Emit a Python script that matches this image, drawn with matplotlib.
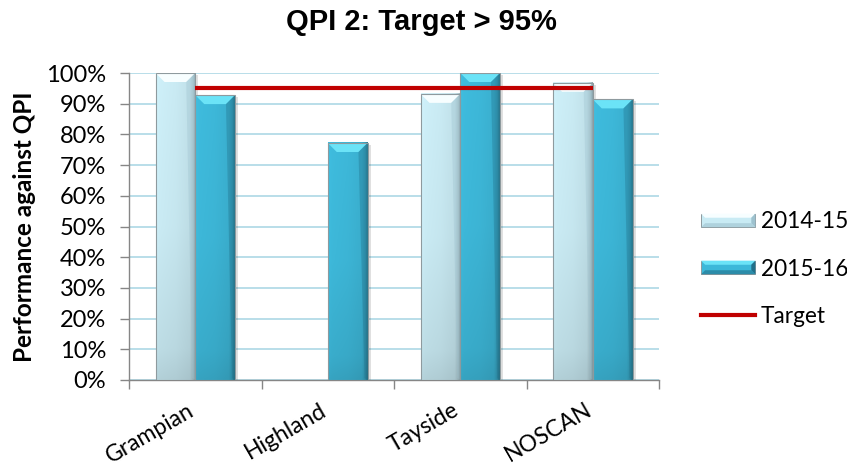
import numpy as np
import matplotlib
matplotlib.use("Agg")
import matplotlib.pyplot as plt
import matplotlib.transforms as mtransforms
from matplotlib.patches import Rectangle, Polygon, Patch
from matplotlib.lines import Line2D
from matplotlib.legend_handler import HandlerBase
from matplotlib.ticker import FixedLocator, PercentFormatter

# ---- data -------------------------------------------------------------
categories = ["Grampian", "Highland", "Tayside", "NOSCAN"]
perf_2014_15 = [1.00, 0.0, 0.932, 0.968]
perf_2015_16 = [0.928, 0.772, 1.00, 0.914]
target_value = 0.95
series_labels = ["2014-15", "2015-16", "Target"]
y_ticks = [0.0, 0.1, 0.2, 0.3, 0.4, 0.5, 0.6, 0.7, 0.8, 0.9, 1.0]

plt.rcParams["font.family"] = ["Lato", "DejaVu Sans"]

LIGHT = dict(base=(0.79, 0.92, 0.955), top=(0.97, 0.995, 1.0), side=(0.62, 0.76, 0.81))
DARK = dict(base=(0.24, 0.72, 0.85), top=(0.42, 0.89, 0.97), side=(0.13, 0.44, 0.54))

fig = plt.figure(figsize=(8.47, 4.68), dpi=100)
ax = fig.add_axes([129 / 847, 1 - 380 / 468, (659 - 129) / 847, (380 - 73) / 468])

PX_X = 1 / 132.0   # one pixel in category units
PX_Y = 1 / 307.0   # one pixel in value units


def bevel_bar(ax, x, w, h, style, z=3):
    if h <= 0:
        return
    base = np.array(style["base"])
    # soft drop shadow
    ax.add_patch(Rectangle((x + 3 * PX_X, 0), w, h - 2 * PX_Y, facecolor="black",
                           alpha=0.12, lw=0, zorder=z - 0.5))
    # body with horizontal/vertical shading
    xs = np.linspace(0, 1, 80)
    hs = np.interp(xs, [0, 0.1, 0.5, 0.85, 0.94, 1.0], [1.04, 1.02, 1.0, 0.96, 0.85, 0.66])
    ys = np.linspace(0, 1, 120)
    vs = np.interp(ys, [0, 0.5, 0.9, 1.0], [1.0, 0.98, 0.92, 0.87])
    img = np.clip(base[None, None, :] * hs[None, :, None] * vs[:, None, None], 0, 1)
    ax.imshow(img, extent=(x, x + w, 0, h), aspect="auto", origin="upper",
              interpolation="bilinear", zorder=z)
    dx = 9 * PX_X
    dy = 9 * PX_Y
    top = Polygon([(x, h), (x + w, h), (x + w - dx, h - dy), (x + dx, h - dy)],
                  closed=True, facecolor=style["top"], lw=0, zorder=z + 0.1)
    ax.add_patch(top)
    right = Polygon([(x + w, h), (x + w, 0), (x + w - 3 * PX_X, 2 * PX_Y),
                     (x + w - dx, h - dy)],
                    closed=True, facecolor=style["side"], alpha=0.35, lw=0, zorder=z + 0.1)
    ax.add_patch(right)
    ax.add_patch(Rectangle((x, 0), w, h, facecolor="none", edgecolor="#8E9A9E",
                           lw=0.8, zorder=z + 0.3))


xpos = np.arange(len(categories))
bar_w = 0.3
for i in xpos:
    bevel_bar(ax, i - bar_w, bar_w, perf_2014_15[i], LIGHT)
    bevel_bar(ax, i, bar_w, perf_2015_16[i], DARK)

ax.plot([xpos[0], xpos[-1]], [target_value, target_value], color="#C00000",
        lw=3.0, solid_capstyle="butt", zorder=6)

ax.set_xlim(-0.5, len(categories) - 0.5)
ax.set_ylim(0, 1.0)

# grid
ax.yaxis.set_major_locator(FixedLocator(y_ticks))
ax.yaxis.set_major_formatter(PercentFormatter(1.0, decimals=0))
ax.grid(axis="y", color="#B9DEE9", lw=1.4, zorder=0)
ax.set_axisbelow(True)

for s in ["top", "right"]:
    ax.spines[s].set_visible(False)
for s in ["left", "bottom"]:
    ax.spines[s].set_color("#868686")
    ax.spines[s].set_linewidth(1.0)

ax.tick_params(axis="y", direction="out", length=6.5, width=1.0, color="#868686",
               pad=10, labelsize=17, labelcolor="black")

# category boundaries as major ticks, labels on minor ticks
ax.set_xticks(np.arange(-0.5, len(categories)), labels=[])
ax.set_xticks(xpos, labels=categories, minor=True)
ax.tick_params(axis="x", which="major", direction="out", length=6.5, width=1.0,
               color="#868686")
ax.tick_params(axis="x", which="minor", length=0, pad=14, labelsize=16.5)
shift = mtransforms.ScaledTranslation(-8 / 100, 0, fig.dpi_scale_trans)
for lab in ax.get_xticklabels(minor=True):
    lab.set_rotation(30)
    lab.set_ha("right")
    lab.set_va("top")
    lab.set_rotation_mode("anchor")
    lab.set_transform(lab.get_transform() + shift)

ax.set_ylabel("Performance against QPI", fontsize=17.5, fontweight="bold", labelpad=7)

fig.text(0.497, 1 - 22 / 468, "QPI 2: Target > 95%",
         ha="center", va="center", fontsize=21, fontweight="bold",
         family=["Liberation Sans", "DejaVu Sans"])


class BevelHandler(HandlerBase):
    def __init__(self, style):
        super().__init__()
        self.style = style

    def create_artists(self, legend, orig_handle, xdescent, ydescent, width, height,
                       fontsize, trans):
        x0, y0 = -xdescent, -ydescent
        st = self.style
        b = height * 0.3
        body = Rectangle((x0, y0), width, height, facecolor=st["base"],
                         edgecolor="#8E9A9E", lw=0.7, transform=trans)
        top = Polygon([(x0, y0 + height), (x0 + width, y0 + height),
                       (x0 + width - b, y0 + height - b), (x0 + b, y0 + height - b)],
                      closed=True, facecolor=st["top"], lw=0, transform=trans)
        right = Polygon([(x0 + width, y0 + height), (x0 + width, y0),
                         (x0 + width - b, y0 + b), (x0 + width - b, y0 + height - b)],
                        closed=True, facecolor=st["side"], lw=0, transform=trans)
        bottom = Polygon([(x0, y0), (x0 + width, y0), (x0 + width - b, y0 + b),
                          (x0 + b, y0 + b)],
                         closed=True, facecolor=st["side"], alpha=0.6, lw=0, transform=trans)
        return [body, top, right, bottom]


h_light = Patch(label=series_labels[0])
h_dark = Patch(label=series_labels[1])
h_target = Line2D([], [], color="#C00000", lw=3.0, label=series_labels[2])
leg = fig.legend(handles=[h_light, h_dark, h_target],
                 handler_map={h_light: BevelHandler(LIGHT), h_dark: BevelHandler(DARK)},
                 loc="center left", bbox_to_anchor=(692 / 847, 1 - 269 / 468),
                 frameon=False, fontsize=16.3, handlelength=2.4, handleheight=0.55,
                 handletextpad=0.25, labelspacing=1.15, borderaxespad=0)

fig.savefig("out.png", dpi=100)
